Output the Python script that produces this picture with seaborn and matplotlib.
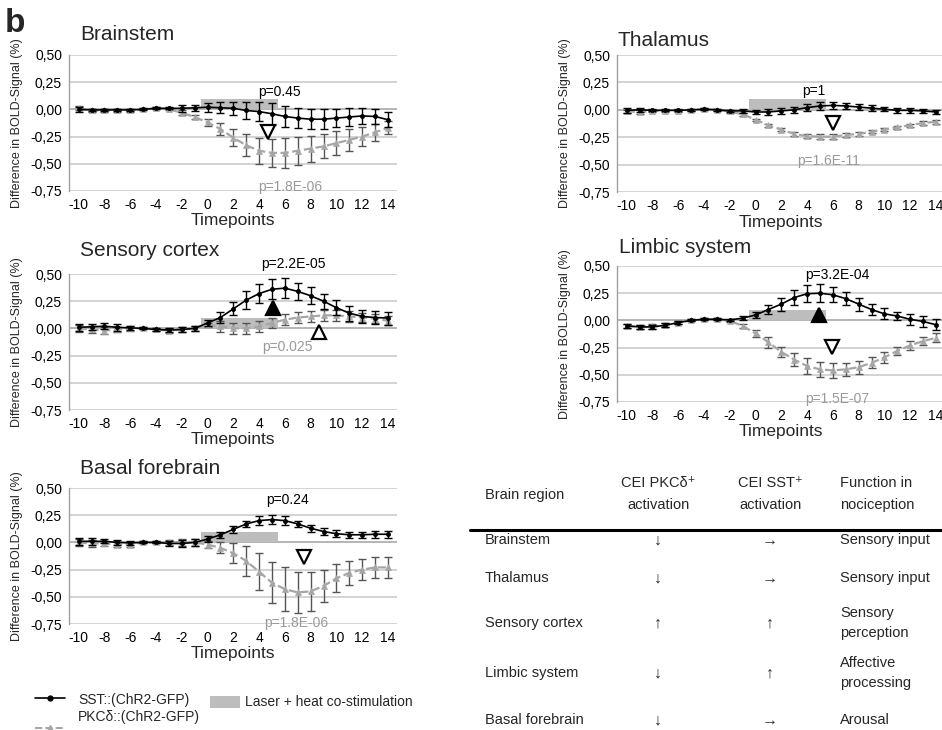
import matplotlib
matplotlib.use("Agg")
import matplotlib.pyplot as plt
import seaborn as sns
import pandas as pd
from matplotlib.lines import Line2D
from matplotlib.patches import Rectangle

# ---------------- data ----------------
timepoints = list(range(-10, 15))
xtick_values = list(range(-10, 15, 2))
xtick_labels = [str(v) for v in xtick_values]
ytick_values = [0.5, 0.25, 0.0, -0.25, -0.5, -0.75]
ytick_labels = ["0,50", "0,25", "0,00", "-0,25", "-0,50", "-0,75"]

regions = ["Brainstem", "Thalamus", "Sensory cortex", "Limbic system", "Basal forebrain"]
series_names = ["SST::(ChR2-GFP)", "PKCδ::(ChR2-GFP)"]
stim_label = "Laser + heat co-stimulation"
stim_window = (-0.5, 5.5)
stim_height = 0.1

brainstem_sst = [0.0, -0.005, -0.005, -0.005, -0.005, 0.0, 0.01, 0.01, 0.01, 0.015, 0.02, 0.015, 0.01,
                 -0.01, -0.02, -0.04, -0.065, -0.08, -0.09, -0.09, -0.08, -0.07, -0.06, -0.065, -0.095]
brainstem_sst_err = [0.02, 0.01, 0.01, 0.01, 0.01, 0.01, 0.01, 0.01, 0.03, 0.03, 0.04, 0.05, 0.06,
                     0.08, 0.09, 0.1, 0.1, 0.09, 0.09, 0.09, 0.08, 0.08, 0.07, 0.07, 0.07]
brainstem_pkc = [0.01, -0.01, -0.01, -0.01, -0.01, 0.0, 0.01, 0.0, -0.03, -0.07, -0.12, -0.18, -0.26,
                 -0.33, -0.38, -0.40, -0.40, -0.38, -0.36, -0.34, -0.31, -0.28, -0.25, -0.21, -0.17]
brainstem_pkc_err = [0.02, 0.01, 0.01, 0.01, 0.01, 0.01, 0.01, 0.01, 0.02, 0.02, 0.03, 0.055, 0.08,
                     0.1, 0.12, 0.13, 0.14, 0.13, 0.12, 0.11, 0.11, 0.1, 0.09, 0.08, 0.06]

thalamus_sst = [-0.005, 0.0, -0.005, -0.005, -0.005, 0.0, 0.005, 0.0, -0.01, -0.01, -0.02, -0.02, -0.01,
                0.0, 0.02, 0.035, 0.04, 0.035, 0.025, 0.015, 0.005, -0.005, -0.005, -0.01, -0.02]
thalamus_sst_err = [0.02, 0.02, 0.01, 0.01, 0.01, 0.01, 0.01, 0.01, 0.01, 0.02, 0.02, 0.03, 0.03,
                    0.03, 0.03, 0.035, 0.035, 0.03, 0.03, 0.03, 0.02, 0.02, 0.02, 0.015, 0.015]
thalamus_pkc = [-0.015, -0.02, -0.01, -0.01, -0.01, 0.0, 0.005, 0.0, -0.015, -0.04, -0.09, -0.14, -0.18,
                -0.22, -0.24, -0.245, -0.245, -0.23, -0.22, -0.2, -0.18, -0.16, -0.14, -0.12, -0.11]
thalamus_pkc_err = [0.015, 0.015, 0.01, 0.01, 0.01, 0.01, 0.01, 0.01, 0.01, 0.015, 0.01, 0.015, 0.015,
                    0.02, 0.02, 0.02, 0.02, 0.015, 0.015, 0.015, 0.015, 0.015, 0.015, 0.015, 0.015]

sensory_sst = [0.01, 0.015, 0.02, 0.01, 0.005, 0.0, -0.01, -0.015, -0.01, 0.0, 0.05, 0.10, 0.18,
               0.26, 0.32, 0.36, 0.37, 0.34, 0.30, 0.25, 0.19, 0.14, 0.11, 0.10, 0.095]
sensory_sst_err = [0.03, 0.03, 0.03, 0.03, 0.02, 0.01, 0.01, 0.02, 0.02, 0.02, 0.03, 0.05, 0.06,
                   0.08, 0.09, 0.09, 0.09, 0.08, 0.08, 0.07, 0.07, 0.07, 0.06, 0.06, 0.06]
sensory_pkc = [0.0, -0.01, -0.02, -0.01, 0.0, 0.0, -0.01, -0.02, -0.01, 0.0, 0.03, 0.02, 0.0,
               0.0, 0.02, 0.05, 0.08, 0.1, 0.11, 0.12, 0.12, 0.11, 0.1, 0.09, 0.07]
sensory_pkc_err = [0.03, 0.03, 0.03, 0.02, 0.02, 0.01, 0.01, 0.02, 0.02, 0.02, 0.02, 0.05, 0.05,
                   0.05, 0.05, 0.05, 0.05, 0.05, 0.05, 0.05, 0.05, 0.05, 0.04, 0.04, 0.04]

limbic_sst = [-0.05, -0.06, -0.06, -0.045, -0.02, 0.0, 0.01, 0.01, 0.005, 0.02, 0.05, 0.10, 0.15,
              0.21, 0.245, 0.25, 0.235, 0.20, 0.15, 0.10, 0.06, 0.04, 0.01, -0.01, -0.04]
limbic_sst_err = [0.02, 0.02, 0.02, 0.02, 0.01, 0.01, 0.01, 0.01, 0.01, 0.02, 0.03, 0.04, 0.06,
                  0.07, 0.08, 0.08, 0.07, 0.06, 0.06, 0.05, 0.05, 0.04, 0.05, 0.05, 0.05]
limbic_pkc = [-0.05, -0.06, -0.055, -0.045, -0.02, 0.0, 0.01, 0.01, -0.005, -0.05, -0.12, -0.2, -0.29,
              -0.36, -0.42, -0.45, -0.46, -0.45, -0.43, -0.39, -0.34, -0.28, -0.23, -0.19, -0.16]
limbic_pkc_err = [0.02, 0.02, 0.02, 0.02, 0.01, 0.01, 0.01, 0.01, 0.01, 0.02, 0.03, 0.05, 0.05,
                  0.06, 0.07, 0.07, 0.07, 0.06, 0.06, 0.05, 0.05, 0.04, 0.04, 0.04, 0.04]

basal_sst = [0.01, 0.01, 0.01, 0.0, -0.005, 0.0, 0.0, -0.01, -0.01, 0.0, 0.03, 0.07, 0.12,
             0.17, 0.20, 0.21, 0.20, 0.17, 0.13, 0.10, 0.08, 0.07, 0.07, 0.075, 0.075]
basal_sst_err = [0.03, 0.03, 0.02, 0.02, 0.02, 0.01, 0.01, 0.02, 0.03, 0.03, 0.03, 0.03, 0.03,
                 0.03, 0.04, 0.04, 0.04, 0.03, 0.03, 0.03, 0.03, 0.03, 0.03, 0.03, 0.03]
basal_pkc = [0.0, -0.01, -0.01, -0.02, -0.02, 0.0, 0.0, 0.0, 0.0, 0.0, -0.02, -0.05, -0.10,
             -0.17, -0.27, -0.37, -0.43, -0.46, -0.45, -0.40, -0.33, -0.28, -0.25, -0.23, -0.23]
basal_pkc_err = [0.03, 0.03, 0.02, 0.02, 0.02, 0.01, 0.01, 0.02, 0.03, 0.03, 0.03, 0.05, 0.09,
                 0.14, 0.17, 0.19, 0.2, 0.19, 0.18, 0.15, 0.13, 0.11, 0.1, 0.1, 0.1]

p_sst_labels = ["p=0.45", "p=1", "p=2.2E-05", "p=3.2E-04", "p=0.24"]
p_pkc_labels = ["p=1.8E-06", "p=1.6E-11", "p=0.025", "p=1.5E-07", "p=1.8E-06"]

table_header = ["Brain region", "CEI PKCδ⁺\nactivation", "CEI SST⁺\nactivation", "Function in\nnociception"]
table_pkc = ["↓", "↓", "↑", "↓", "↓"]
table_sst = ["→", "→", "↑", "↑", "→"]
table_function = ["Sensory input", "Sensory input", "Sensory\nperception", "Affective\nprocessing", "Arousal"]

# ---------------- style ----------------
sns.set_theme(style="white")
FONT = ["Liberation Sans", "DejaVu Sans"]
plt.rcParams["font.family"] = FONT

W, H = 942, 730
fig = plt.figure(figsize=(W / 100, H / 100), dpi=100)

def fx(px):
    return px / W

def fy(py):
    return 1 - py / H

SST_C = "black"
PKC_C = "#a6a6a6"
GRID_C = "#c8c8c8"

panel_cfg = [
    dict(left=69, top=55, bottom=191, title_dx=11, title_dy=20,
         psst=(5.6, 0.16), ppkc=(6.4, -0.71),
         tri=[(4.7, -0.21, "v", "white")]),
    dict(left=617, top=55, bottom=192, title_dx=1, title_dy=15,
         psst=(4.5, 0.17), ppkc=(5.7, -0.47),
         tri=[(6.0, -0.12, "v", "white")]),
    dict(left=69, top=274, bottom=410, title_dx=11, title_dy=24,
         psst=(6.7, 0.59), ppkc=(6.2, -0.17),
         tri=[(5.1, 0.19, "^", "black"), (8.65, -0.03, "^", "white")]),
    dict(left=617, top=266, bottom=402, title_dx=2, title_dy=18,
         psst=(6.35, 0.42), ppkc=(6.35, -0.72),
         tri=[(4.95, 0.05, "^", "black"), (5.9, -0.24, "v", "white")]),
    dict(left=69, top=488, bottom=624, title_dx=11, title_dy=20,
         psst=(6.2, 0.39), ppkc=(6.9, -0.745),
         tri=[(7.45, -0.13, "v", "white")]),
]
panel_data = [
    (brainstem_sst, brainstem_sst_err, brainstem_pkc, brainstem_pkc_err),
    (thalamus_sst, thalamus_sst_err, thalamus_pkc, thalamus_pkc_err),
    (sensory_sst, sensory_sst_err, sensory_pkc, sensory_pkc_err),
    (limbic_sst, limbic_sst_err, limbic_pkc, limbic_pkc_err),
    (basal_sst, basal_sst_err, basal_pkc, basal_pkc_err),
]

AX_W = 328
for i, (cfg, dat) in enumerate(zip(panel_cfg, panel_data)):
    sst, sst_err, pkc, pkc_err = dat
    hpx = cfg["bottom"] - cfg["top"]
    ax = fig.add_axes([fx(cfg["left"]), fy(cfg["bottom"]), fx(AX_W), hpx / H])
    ax.set_xlim(-10.75, 14.7)
    ax.set_ylim(-0.75, 0.5)
    ax.set_facecolor("none")
    for yv in ytick_values:
        ax.axhline(yv, color="#a0a0a0" if yv == 0 else GRID_C, lw=1.1, zorder=0)
    ax.add_patch(Rectangle((stim_window[0], 0), stim_window[1] - stim_window[0], stim_height,
                           facecolor="#bdbdbd", edgecolor="none", zorder=1))
    df = pd.DataFrame({"t": timepoints, "sst": sst, "pkc": pkc})
    ax.errorbar(timepoints, pkc, yerr=pkc_err, fmt="none", ecolor="#555555",
                elinewidth=1.0, capsize=3.2, capthick=1.0, zorder=2)
    sns.lineplot(data=df, x="t", y="pkc", ax=ax, color=PKC_C, linestyle="--", lw=1.6,
                 marker="^", markersize=4, markeredgecolor=PKC_C, markeredgewidth=0.5, zorder=3)
    ax.errorbar(timepoints, sst, yerr=sst_err, fmt="none", ecolor="black",
                elinewidth=1.0, capsize=3.2, capthick=1.0, zorder=4)
    sns.lineplot(data=df, x="t", y="sst", ax=ax, color=SST_C, lw=1.2,
                 marker="o", markersize=3, markeredgecolor=SST_C, markeredgewidth=0.5, zorder=5)
    for (tx, ty, m, fc) in cfg["tri"]:
        ax.plot([tx], [ty], marker=m, markersize=10, markerfacecolor=fc,
                markeredgecolor="black", markeredgewidth=1.6, linestyle="none", zorder=6,
                clip_on=False)
    ax.text(cfg["psst"][0], cfg["psst"][1], p_sst_labels[i], color="black", fontsize=10,
            ha="center", va="center", zorder=7, clip_on=False)
    ax.text(cfg["ppkc"][0], cfg["ppkc"][1], p_pkc_labels[i], color="#9a9a9a", fontsize=10,
            ha="center", va="center", zorder=7, clip_on=False)

    ax.set_xticks(xtick_values)
    ax.set_xticklabels(xtick_labels, fontsize=10)
    ax.set_yticks(ytick_values)
    ax.set_yticklabels(ytick_labels, fontsize=10)
    ax.tick_params(axis="x", length=0, pad=5, colors="black")
    ax.tick_params(axis="y", length=3, width=0.8, color="#999999", pad=2, labelcolor="black")
    for s in ["top", "right", "bottom"]:
        ax.spines[s].set_visible(False)
    ax.spines["left"].set_color("#a0a0a0")
    ax.spines["left"].set_linewidth(1.0)
    ax.set_xlabel("Timepoints", fontsize=12.5)
    ax.xaxis.label.set_va("center")
    ax.xaxis.set_label_coords(0.5, -0.22)
    ax.set_ylabel("Difference in BOLD-Signal (%)", fontsize=9)
    ax.yaxis.label.set_va("center")
    ax.yaxis.set_label_coords(-0.16, 0.5)
    ax.grid(False)
    ax.text(cfg["title_dx"] / AX_W, 1 + cfg["title_dy"] / hpx, regions[i], transform=ax.transAxes,
            fontsize=15, ha="left", va="center")

# panel letter
fig.text(fx(5), fy(23), "b", fontsize=24, fontweight="bold", ha="left", va="center")

# legend (drawn at figure level)
fig.add_artist(Line2D([fx(35), fx(65)], [fy(698), fy(698)], color=SST_C, lw=1.2))
fig.add_artist(Line2D([fx(50)], [fy(698)], color=SST_C, marker="o", markersize=3.5, linestyle="none"))
fig.text(fx(78), fy(700), series_names[0], fontsize=10, ha="left", va="center")
fig.add_artist(Rectangle((fx(210), fy(708)), fx(30), 12 / H, facecolor="#bdbdbd",
                         edgecolor="none", transform=fig.transFigure))
fig.text(fx(245), fy(702), stim_label, fontsize=10, ha="left", va="center")
fig.add_artist(Line2D([fx(35), fx(65)], [fy(728), fy(728)], color=PKC_C, lw=1.4, linestyle="--"))
fig.add_artist(Line2D([fx(50)], [fy(728)], color=PKC_C, marker="^", markersize=4, linestyle="none"))
fig.text(fx(78), fy(717), series_names[1], fontsize=10, ha="left", va="center")

# table
TFS = 10.5
col_x = [485, 658, 770, 840]
fig.text(fx(col_x[0]), fy(495), table_header[0], fontsize=TFS, ha="left", va="center")
fig.text(fx(col_x[1]), fy(494), table_header[1], fontsize=TFS, ha="center", va="center",
         linespacing=1.65, family=FONT)
fig.text(fx(col_x[2]), fy(494), table_header[2], fontsize=TFS, ha="center", va="center",
         linespacing=1.65, family=FONT)
fig.text(fx(col_x[3]), fy(494), table_header[3], fontsize=TFS, ha="left", va="center",
         linespacing=1.65)
fig.add_artist(Line2D([fx(470), fx(942)], [fy(530), fy(530)], color="black", lw=2.2))
row_y = [540, 578, 623, 673, 720]
for r, yy in enumerate(row_y):
    fig.text(fx(col_x[0]), fy(yy), regions[r], fontsize=TFS, ha="left", va="center")
    fig.text(fx(col_x[1]), fy(yy), table_pkc[r], fontsize=TFS + 1, ha="center", va="center", family=FONT)
    fig.text(fx(col_x[2]), fy(yy), table_sst[r], fontsize=TFS + 1, ha="center", va="center", family=FONT)
    fig.text(fx(col_x[3]), fy(yy), table_function[r], fontsize=TFS, ha="left", va="center",
             linespacing=1.5)

fig.savefig("out.png", dpi=100)
